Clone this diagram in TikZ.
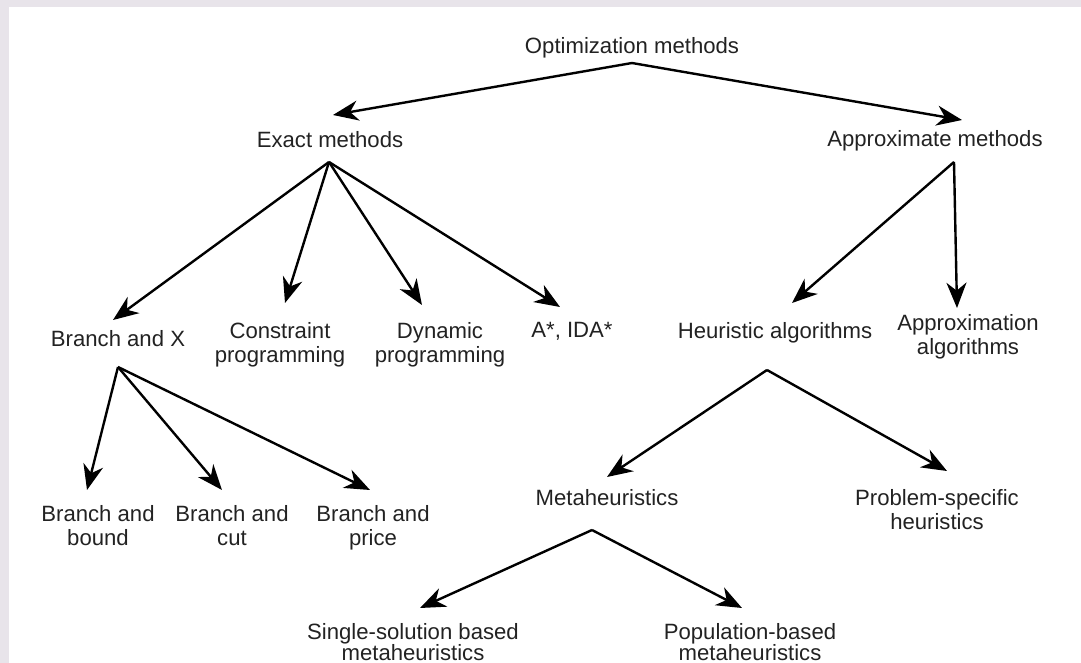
\documentclass[tikz,border=0pt]{standalone}
\usepackage{fontspec}
\setmainfont{Liberation Sans}
\usetikzlibrary{arrows.meta,calc}
\definecolor{framegray}{HTML}{E8E4EA}
\definecolor{ink}{HTML}{222222}
\begin{document}
\begin{tikzpicture}[x=0.75pt,y=-0.75pt,
  lbl/.style={inner sep=0pt, outer sep=0pt, anchor=north, text=ink,
    font=\fontsize{16.6}{18}\selectfont, align=center},
  tight/.style={font=\fontsize{16.6}{16}\selectfont},
  arr/.style={line width=1.8pt, -{Stealth[length=19pt,width=15pt,inset=6pt]}}]
\useasboundingbox (0,0) rectangle (1081,663);
\fill[framegray] (0,0) rectangle (1081,663);
\fill[white] (9,7) rectangle (1081,663);

% nodes
\node[lbl] (opt) at (632,37) {Optimization methods};
\node[lbl] (exact) at (330,131) {Exact methods};
\node[lbl] (approx) at (935,130) {Approximate methods};
\node[lbl] (bnx) at (118,330) {Branch and X};
\node[lbl] (cp) at (280,322) {Constraint\\programming};
\node[lbl] (dp) at (440,322) {Dynamic\\programming};
\node[lbl] (astar) at (572,322) {A*, IDA*};
\node[lbl] (heur) at (775,322) {Heuristic algorithms};
\node[lbl] (apalg) at (968,314) {Approximation\\algorithms};
\node[lbl] (bnb) at (98,505) {Branch and\\bound};
\node[lbl] (bnc) at (232,505) {Branch and\\cut};
\node[lbl] (bnp) at (373,505) {Branch and\\price};
\node[lbl] (meta) at (607,489) {Metaheuristics};
\node[lbl] (psh) at (937,489) {Problem-specific\\heuristics};
\node[lbl,tight] (single) at (413,623) {Single-solution based\\metaheuristics};
\node[lbl,tight] (pop) at (750,623) {Population-based\\metaheuristics};

% branching points
\coordinate (optA) at (632,63);
\coordinate (exactA) at (329,162);
\coordinate (approxA) at (954,162);
\coordinate (bnxA) at (118,367);
\coordinate (heurA) at (767,370);
\coordinate (metaA) at (592,530);

% connectors
\draw[arr] (optA) -- ($(exact.north)+(3,-16)$);
\draw[arr] (optA) -- ($(approx.north)+(27,-10)$);

\draw[arr] (exactA) -- ($(bnx.north)+(-5,-10)$);
\draw[arr] (exactA) -- ($(cp.north)+(5,-19)$);
\draw[arr] (exactA) -- ($(dp.north)+(-18,-17)$);
\draw[arr] (exactA) -- ($(astar.north)+(-12,-15)$);

\draw[arr] (approxA) -- ($(heur.north)+(17,-19)$);
\draw[arr] (approxA) -- ($(apalg.north)+(-11,-6)$);

\draw[arr] (bnxA) -- ($(bnb.north)+(-11,-15)$);
\draw[arr] (bnxA) -- ($(bnc.north)+(-10,-15)$);
\draw[arr] (bnxA) -- ($(bnp.north)+(-3,-15)$);

\draw[arr] (heurA) -- ($(meta.north)+(0,-12)$);
\draw[arr] (heurA) -- ($(psh.north)+(10,-18)$);

\draw[arr] (metaA) -- ($(single.north)+(7,-15)$);
\draw[arr] (metaA) -- ($(pop.north)+(-8,-15)$);
\end{tikzpicture}
\end{document}
